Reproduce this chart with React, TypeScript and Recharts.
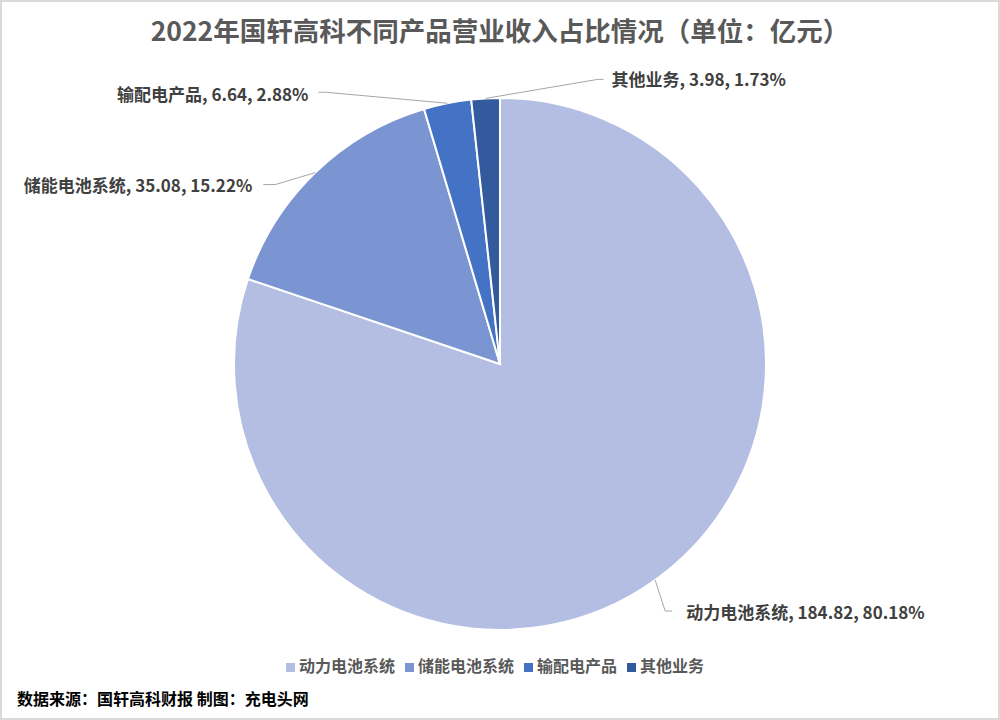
import { PieChart, Pie, Cell, Legend } from "recharts";

const categories = ["动力电池系统", "储能电池系统", "输配电产品", "其他业务"];
const revenues = [184.82, 35.08, 6.64, 3.98];
const colors = ["#b4bee3", "#7b95d3", "#4472c4", "#335a9c"];

const total = revenues.reduce((a, b) => a + b, 0);
const data = categories.map((name, i) => ({ name, value: revenues[i] }));

// label leader lines, relative to the slice edge point: elbow, line end, text anchor
const labelLayout = [
  { pts: [[10, 31], [17, 31]], text: [31, 31], anchor: "start" },
  { pts: [[-40, 12], [-52, 12]], text: [-63, 12], anchor: "end" },
  { pts: [[-122, -11], [-129, -11]], text: [-139, -10], anchor: "end" },
  { pts: [[112, -19], [118, -19]], text: [126, -20], anchor: "start" },
];

const FONT = "'Noto Sans CJK SC', 'Noto Sans', sans-serif";
const RAD = Math.PI / 180;

function renderLabel(props: any) {
  const { cx, cy, midAngle, outerRadius, index, value } = props;
  const sx = cx + outerRadius * Math.cos(-midAngle * RAD);
  const sy = cy + outerRadius * Math.sin(-midAngle * RAD);
  const cfg = labelLayout[index];
  const path =
    `M${sx},${sy}` + cfg.pts.map(([dx, dy]) => ` L${sx + dx},${sy + dy}`).join("");
  const pct = ((value / total) * 100).toFixed(2);
  return (
    <g key={`lbl-${index}`}>
      <path d={path} stroke="#a6a6a6" strokeWidth={1} fill="none" />
      <text
        x={sx + cfg.text[0]}
        y={sy + cfg.text[1]}
        textAnchor={cfg.anchor as any}
        dominantBaseline="central"
        fontSize={17}
        fontWeight="bold"
        fill="#404040"
        fontFamily={FONT}
      >
        {`${categories[index]}, ${value}, ${pct}%`}
      </text>
    </g>
  );
}

export default function App() {
  return (
    <div
      style={{
        position: "absolute",
        left: 0,
        top: 0,
        width: 1000,
        height: 720,
        boxSizing: "border-box",
        border: "2px solid #d9d9d9",
        background: "#fff",
        fontFamily: FONT,
      }}
    >
      <div
        style={{
          position: "absolute",
          top: 10,
          left: 0,
          width: "100%",
          textAlign: "center",
          fontSize: 26.5,
          fontWeight: "bold",
          color: "#595959",
          lineHeight: "36px",
        }}
      >
        2022年国轩高科不同产品营业收入占比情况（单位：亿元）
      </div>
      <div style={{ position: "absolute", left: -2, top: -2 }}>
        <PieChart width={1000} height={720} margin={{ top: 0, right: 0, bottom: 0, left: 0 }}>
          <Pie
            data={data}
            dataKey="value"
            nameKey="name"
            cx={500}
            cy={364}
            outerRadius={266}
            startAngle={90}
            endAngle={-270}
            stroke="#fff"
            strokeWidth={2}
            label={renderLabel}
            labelLine={false}
            isAnimationActive={false}
          >
            {data.map((d, i) => (
              <Cell key={d.name} fill={colors[i]} />
            ))}
          </Pie>
          <Legend
            verticalAlign="bottom"
            align="center"
            iconType="square"
            iconSize={9}
            itemSorter={(item: any) => categories.indexOf(item.value)}
            wrapperStyle={{ top: 653, bottom: "auto", left: 0, width: 1000 }}
            formatter={(v: string) => (
              <span style={{ color: "#595959", fontSize: 16, fontWeight: "bold" }}>{v}</span>
            )}
          />
        </PieChart>
      </div>
      <div
        style={{
          position: "absolute",
          left: 15,
          top: 686,
          fontSize: 16,
          fontWeight: "bold",
          color: "#000",
          lineHeight: "20px",
        }}
      >
        数据来源：国轩高科财报 制图：充电头网
      </div>
    </div>
  );
}
